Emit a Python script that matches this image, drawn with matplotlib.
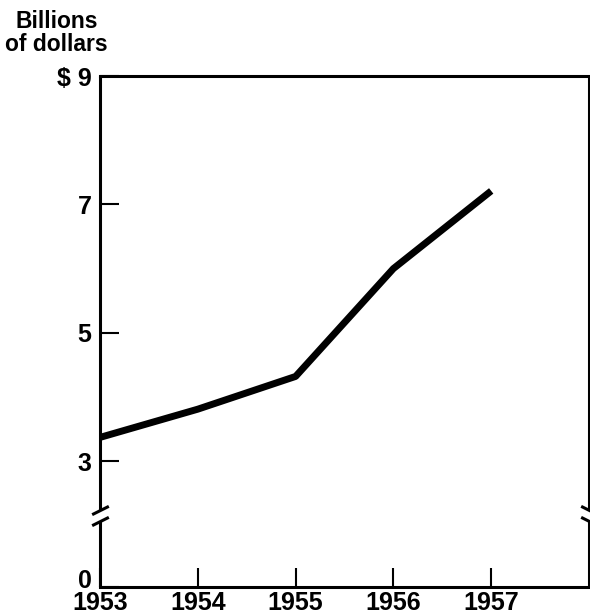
import numpy as np
import matplotlib
matplotlib.use("Agg")
import matplotlib.pyplot as plt
from matplotlib.transforms import ScaledTranslation

# data (billions of dollars)
years = [1953, 1954, 1955, 1956, 1957]
values = [3.37, 3.81, 4.32, 6.0, 7.21]
ytick_vals = [0, 3, 5, 7, 9]
ytick_labels = ["0", "3", "5", "7", "$ 9"]

plt.rcParams["font.family"] = ["Liberation Sans", "DejaVu Sans"]
plt.rcParams["font.weight"] = "bold"

# broken y axis: below BRK the values are squeezed
BRK = 2.2
LO = 1.04


def fwd(v):
    v = np.asarray(v, dtype=float)
    return np.where(v >= BRK, v, LO + v * (BRK - LO) / BRK)


def inv(p):
    p = np.asarray(p, dtype=float)
    return np.where(p >= BRK, p, (p - LO) * BRK / (BRK - LO))


fig = plt.figure(figsize=(5.9, 6.14), dpi=100)
ax = fig.add_axes([0.1695, 0.044, 0.8288, 0.8322])

ax.plot(years, values, color="black", lw=5, solid_capstyle="butt", clip_on=False)

ax.set_yscale("function", functions=(fwd, inv))
ax.set_ylim(0, 9)
ax.set_xlim(1953, 1958)
ax.set_xticks(years)
ax.set_xticklabels([str(y) for y in years])
ax.set_yticks(ytick_vals)
ax.set_yticklabels(ytick_labels)
ax.minorticks_off()

ax.tick_params(axis="both", direction="in", length=14, width=1.5,
               labelsize=18, pad=6, color="black")
ax.tick_params(axis="x", pad=3)

# "0" sits a little above the bottom axis
lbl0 = ax.get_yticklabels()[0]
lbl0.set_transform(lbl0.get_transform() +
                   ScaledTranslation(0, 6 / 72, fig.dpi_scale_trans))

for s in ["top", "bottom"]:
    ax.spines[s].set_linewidth(2.2)
for s in ["left", "right"]:
    ax.spines[s].set_visible(False)

# left/right spines drawn with a gap for the break
gap_lo, gap_hi = 1.95, 2.24
yt = ax.get_yaxis_transform()
for xs in [0, 1]:
    ax.plot([xs, xs], [0, gap_lo], color="black", lw=2.2, transform=yt,
            clip_on=False, solid_capstyle="butt")
    ax.plot([xs, xs], [gap_hi, 9], color="black", lw=2.2, transform=yt,
            clip_on=False, solid_capstyle="butt")

slash_l = [(-1, -0.5), (1, 0.5)]
slash_r = [(-1, 0.5), (1, -0.5)]
ax.plot([0, 0], [gap_lo, gap_hi], ls="none", marker=slash_l, ms=12,
        mew=2.2, color="black", transform=yt, clip_on=False)
ax.plot([1, 1], [gap_lo, gap_hi], ls="none", marker=slash_r, ms=12,
        mew=2.2, color="black", transform=yt, clip_on=False)

fig.text(0.096, 0.947, "Billions\nof dollars", ha="center", va="center",
         fontsize=16.5, fontweight="bold", linespacing=1.0)

fig.savefig("out.png", dpi=100)
